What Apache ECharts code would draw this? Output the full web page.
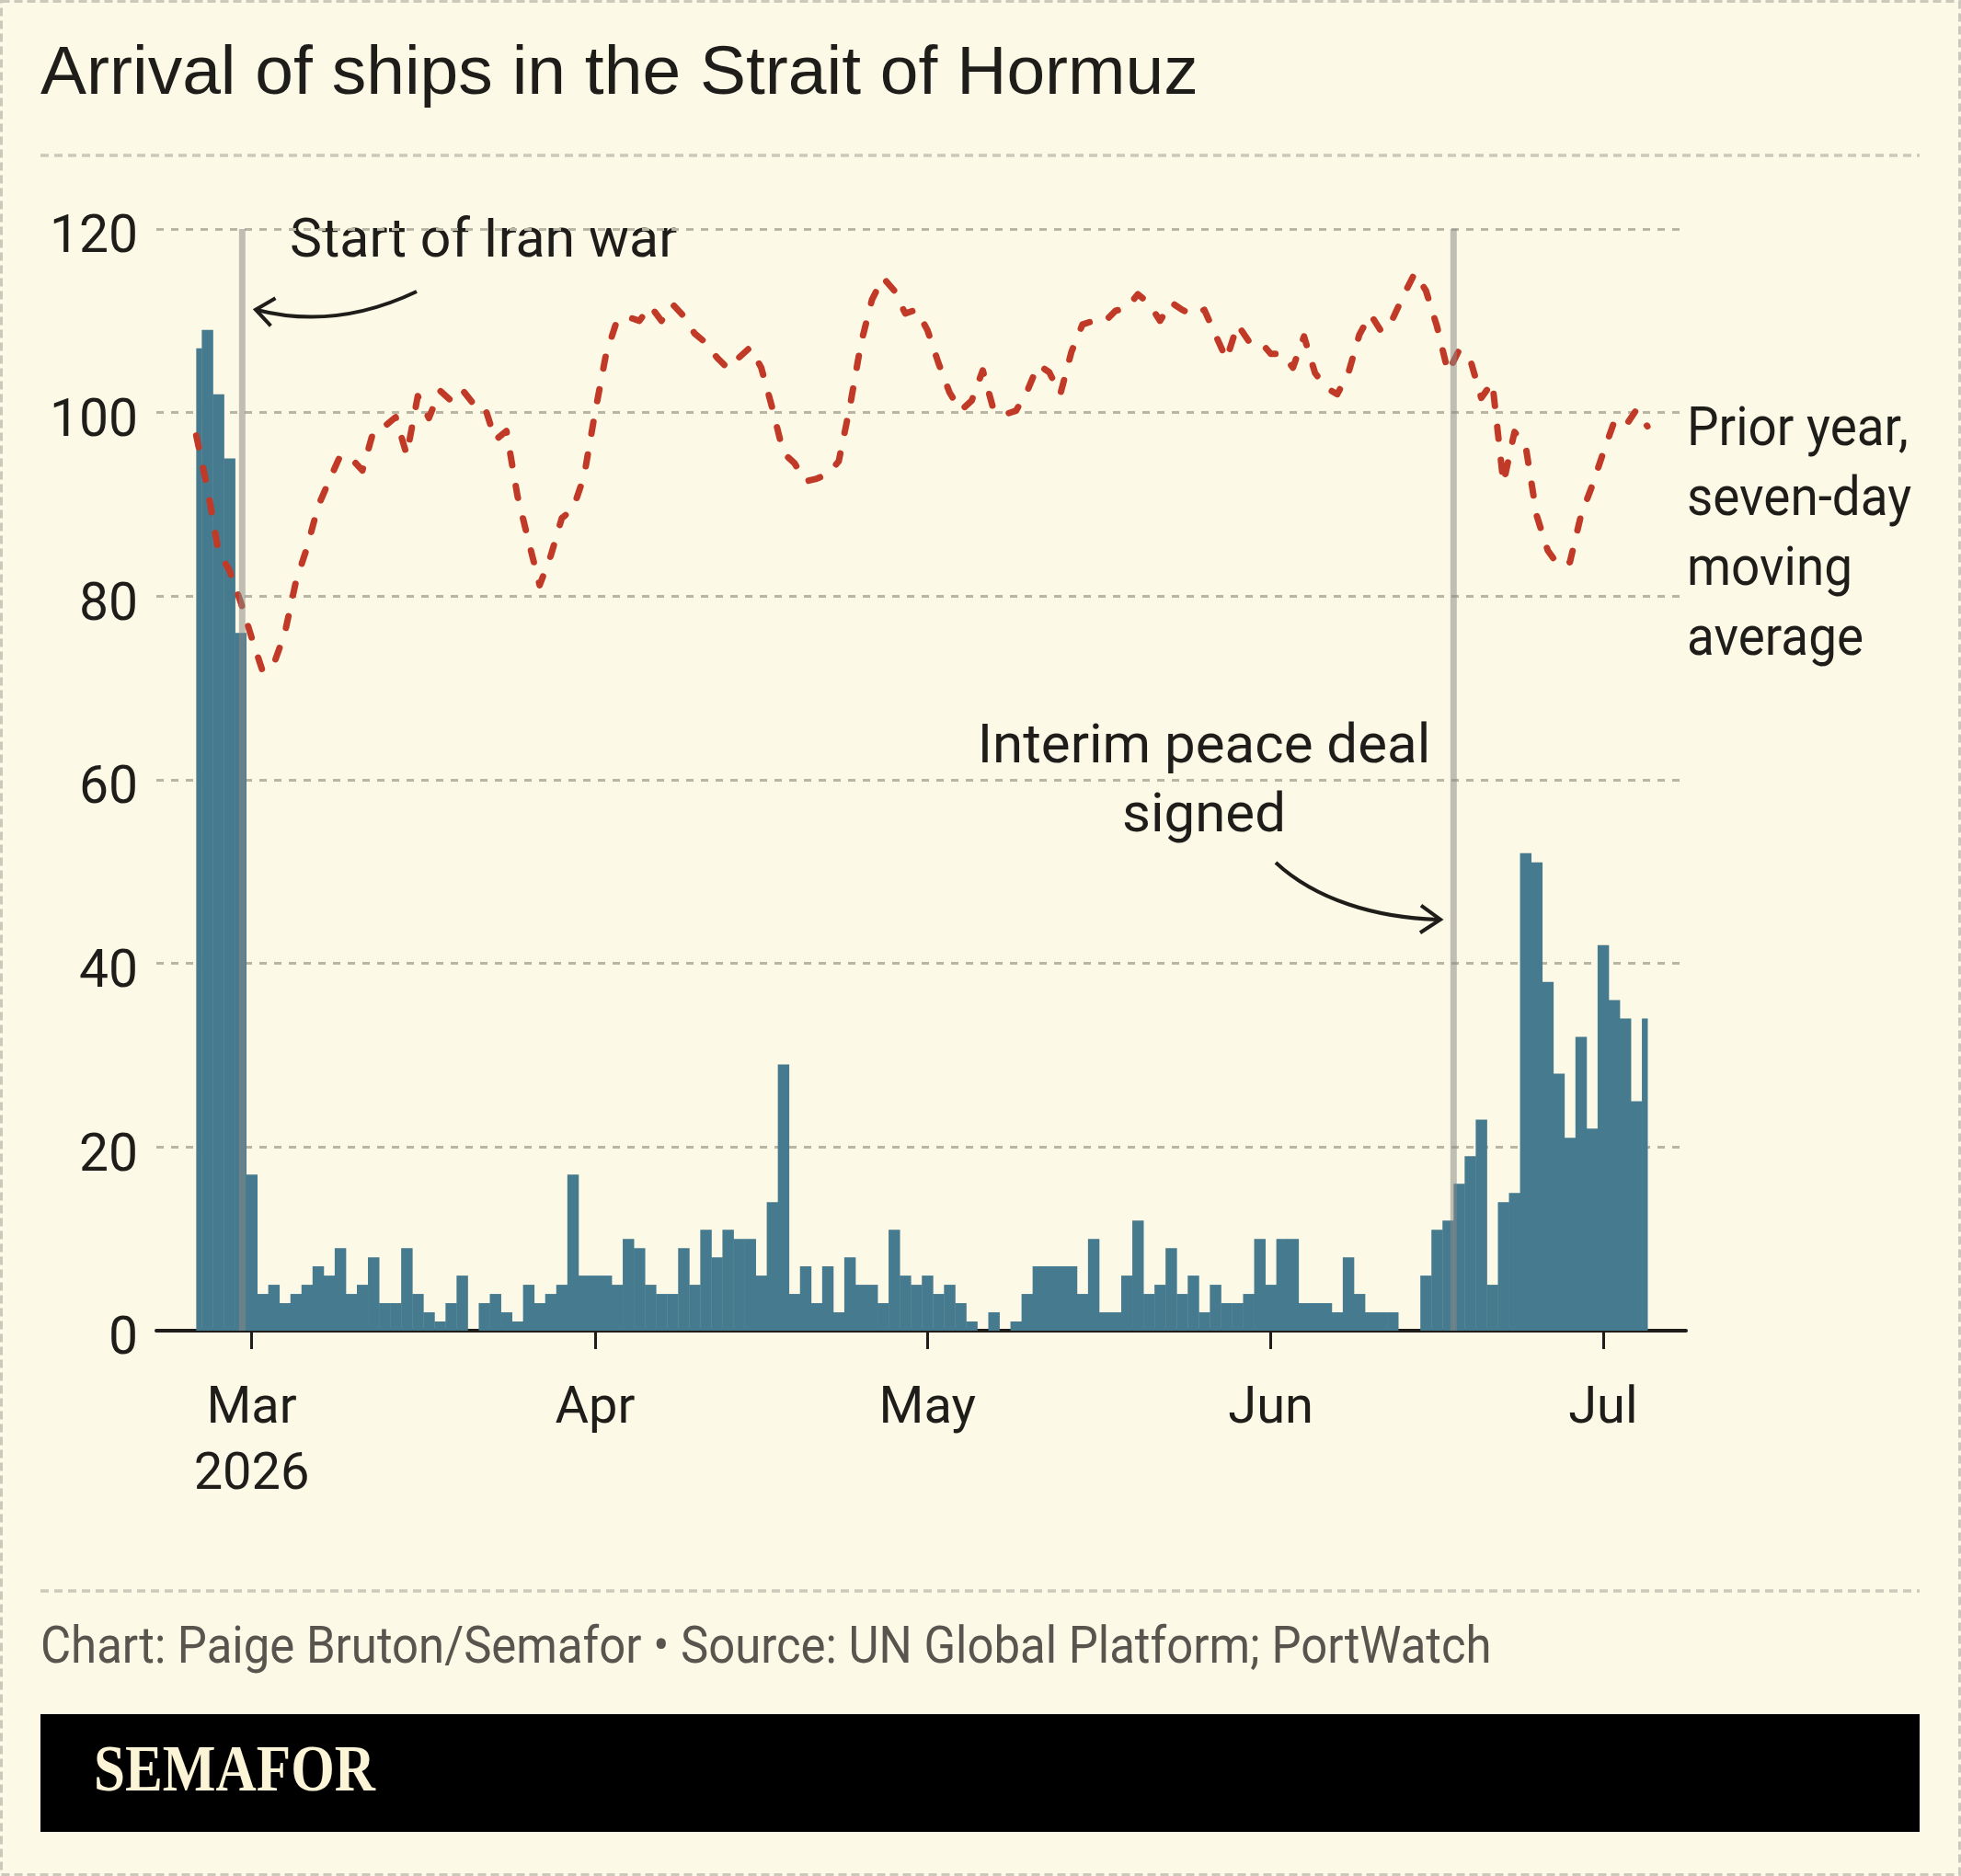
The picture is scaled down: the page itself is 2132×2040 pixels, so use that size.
<!DOCTYPE html>
<html>
<head>
<meta charset="utf-8">
<title>Arrival of ships in the Strait of Hormuz</title>
<script src="https://cdn.jsdelivr.net/npm/echarts@6/dist/echarts.min.js"></script>
<style>
  html, body { margin: 0; padding: 0; background: #fcf9e6; }
  #chart { width: 2132px; height: 2040px; }
</style>
</head>
<body>
<div id="chart"></div>
<script>
// ── Data ──────────────────────────────────────────────────────────────────────
// x values are day offsets from 1 March 2026; both series run Feb 24 → Jul 5.
const firstDay = -5

// Daily ship arrivals in the Strait of Hormuz, 2026
const arrivals = [
  // Feb 24–28
  107, 109, 102, 95, 76,
  // Mar
  17, 4, 5, 3, 4, 5, 7, 6, 9, 4, 5, 8, 3, 3, 9, 4, 2, 1, 3, 6, 0, 3, 4, 2, 1, 5, 3, 4, 5, 17, 6,
  // Apr
  6, 6, 5, 10, 9, 5, 4, 4, 9, 5, 11, 8, 11, 10, 10, 6, 14, 29, 4, 7, 3, 7, 2, 8, 5, 5, 3, 11, 6, 5,
  // May
  6, 4, 5, 3, 1, 0, 2, 0, 1, 4, 7, 7, 7, 7, 4, 10, 2, 2, 6, 12, 4, 5, 9, 4, 6, 2, 5, 3, 3, 4, 10,
  // Jun
  5, 10, 10, 3, 3, 3, 2, 8, 4, 2, 2, 2, 0, 0, 6, 11, 12, 16, 19, 23, 5, 14, 15, 52, 51, 38, 28, 21, 32, 22,
  // Jul 1–5
  42, 36, 34, 25, 34,
]

// Prior year, seven-day moving average
const priorYearAvg = [
  // Feb 24–28
  97.5, 91.8, 84.9, 82.8, 79.4,
  // Mar
  75.5, 71.8, 72.6, 76.0, 81.6, 85.3, 89.8, 92.6, 95.3, 95.0, 93.7, 98.0, 98.5, 99.5, 95.4, 101.8,
  99.4, 102.4, 101.3, 102.5, 101.0, 100.8, 97.0, 98.0, 90.9, 86.0, 81.2, 84.4, 88.5, 89.5, 93.0,
  // Apr
  100.0, 106.4, 110.1, 110.4, 110.0, 111.6, 110.0, 111.8, 110.5, 108.6, 107.6, 106.0, 104.8, 106.0, 107.1,
  104.9, 100.5, 95.6, 94.5, 92.5, 92.8, 93.3, 94.7, 100.6, 107.5, 112.3, 114.7, 113.3, 110.8, 111.2,
  // May
  109.0, 105.4, 102.2, 100.2, 101.3, 104.6, 100.2, 99.8, 100.2, 102.3, 105.2, 104.4, 102.0, 106.6, 109.6,
  110.0, 109.9, 111.1, 111.4, 112.9, 111.9, 110.0, 112.0, 111.2, 110.6, 111.2, 108.5, 105.8, 109.6, 107.8, 107.8,
  // Jun
  106.4, 106.4, 104.9, 108.3, 104.3, 102.7, 102.0, 104.3, 108.5, 110.7, 108.8, 110.2, 112.8, 115.2, 113.3,
  109.4, 104.4, 106.8, 105.8, 101.6, 103.3, 92.3, 97.9, 96.4, 88.8, 85.0, 83.3, 83.7, 88.8, 92.0,
  // Jul 1–5
  95.6, 99.0, 98.5, 100.3, 98.5,
]

// Month ticks (day offsets) and their labels
const monthTicks = [0, 31, 61, 92, 122]
const monthLabels = ['Mar\n2026', 'Apr', 'May', 'Jun', 'Jul']

// Event markers: start of Iran war, interim peace deal signed
const eventDays = [-0.85, 108.5]

const yTicks = [0, 20, 40, 60, 80, 100, 120]

// ── Styles ────────────────────────────────────────────────────────────────────

const BG = '#fcf9e6'
const INK = '#1f1d1a'
const BAR_COLOR = '#457a8f'
const LINE_COLOR = '#c13a27'
const EVENT_COLOR = 'rgba(138,137,135,0.53)'
const GRID_COLOR = '#b9b6a6'
const RULE_COLOR = '#cbc8bc'
const FOOT_COLOR = '#58554f'
const CREAM = '#fbf4d6'
const LABEL_FONT = 'Roboto, "Liberation Sans", sans-serif'
const TITLE_FONT = '"Liberation Sans", Arial, sans-serif'

const lastDay = firstDay + arrivals.length - 1

// ── Series renderers ──────────────────────────────────────────────────────────

// One column per day, clipped to the span of the data (first/last day centres)
function renderBar(params, api) {
  const day = api.value(0)
  const value = api.value(1)
  const base = api.coord([day, 0])
  const top = api.coord([day, value])
  const width = api.size([1, 0])[0]
  const left = api.coord([firstDay, 0])[0]
  const right = api.coord([lastDay, 0])[0]
  const x0 = Math.max(base[0] - width / 2, left)
  const x1 = Math.min(base[0] + width / 2, right)
  return {
    type: 'rect',
    shape: { x: x0, y: top[1], width: x1 - x0 + 0.4, height: base[1] - top[1] },
    style: { fill: BAR_COLOR },
  }
}

function renderEvent(params, api) {
  const top = api.coord([api.value(0), api.value(1)])
  const bottom = api.coord([api.value(0), 0])
  return {
    type: 'line',
    shape: { x1: top[0], y1: top[1], x2: bottom[0], y2: bottom[1] },
    style: { stroke: EVENT_COLOR, lineWidth: 7 },
  }
}

// ── Decorations (titles, notes, footer) ───────────────────────────────────────

function text(x, y, content, extra, scaleX = 1) {
  return {
    type: 'text',
    x,
    y,
    scaleX,
    silent: true,
    style: Object.assign({
      text: content,
      fontFamily: LABEL_FONT,
      fontSize: 59,
      fill: INK,
      align: 'left',
      verticalAlign: 'middle',
    }, extra),
  }
}

function rule(y) {
  return {
    type: 'line',
    silent: true,
    shape: { x1: 44, y1: y, x2: 2087, y2: y },
    style: { stroke: RULE_COLOR, lineWidth: 3.5, lineDash: [9, 6] },
  }
}

function arrowHead(points) {
  return {
    type: 'polyline',
    silent: true,
    shape: { points },
    style: { stroke: INK, lineWidth: 4, fill: null, lineJoin: 'miter' },
  }
}

const graphics = [
  // dashed frame round the whole card
  {
    type: 'rect',
    silent: true,
    shape: { x: 1.5, y: 1.5, width: 2129, height: 2037 },
    style: { fill: null, stroke: RULE_COLOR, lineWidth: 3, lineDash: [9, 5] },
  },
  text(44, 81, 'Arrival of ships in the Strait of Hormuz', { fontFamily: TITLE_FONT, fontSize: 75 }),
  rule(169),
  rule(1730),

  // "Start of Iran war" note
  text(315, 264, 'Start of Iran war'),
  {
    type: 'bezierCurve',
    silent: true,
    shape: { x1: 453, y1: 317, x2: 279, y2: 337, cpx1: 365, cpy1: 359 },
    style: { stroke: INK, lineWidth: 4, fill: null },
  },
  arrowHead([[299.5, 324.3], [278, 336.7], [294.4, 354.3]]),

  // "Interim peace deal signed" note
  text(1309, 776, 'Interim peace deal\nsigned', { align: 'center', verticalAlign: 'top', lineHeight: 75, fontSize: 60 }),
  {
    type: 'bezierCurve',
    silent: true,
    shape: { x1: 1387, y1: 938, x2: 1564, y2: 1000, cpx1: 1430, cpy1: 978, cpx2: 1495, cpy2: 998 },
    style: { stroke: INK, lineWidth: 4, fill: null },
  },
  arrowHead([[1545, 984.6], [1566, 1000], [1544, 1014.3]]),

  // line label
  text(1834, 431, 'Prior year,\nseven-day\nmoving\naverage', { verticalAlign: 'top', lineHeight: 76 }, 0.93),

  // footer
  text(44, 1794, 'Chart: Paige Bruton/Semafor \u2022 Source: UN Global Platform; PortWatch', {
    fontSize: 55,
    fill: FOOT_COLOR,
  }, 0.925),
  {
    type: 'rect',
    silent: true,
    shape: { x: 44, y: 1864, width: 2043, height: 128 },
    style: { fill: '#000' },
  },
  {
    type: 'text',
    silent: true,
    x: 102,
    y: 1928,
    scaleX: 0.85,
    style: {
      text: 'SEMAFOR',
      fontFamily: '"Liberation Serif", "DejaVu Serif", serif',
      fontWeight: 'bold',
      fontSize: 72,
      fill: CREAM,
      align: 'left',
      verticalAlign: 'middle',
    },
  },
]

// ── Chart ─────────────────────────────────────────────────────────────────────

const chart = echarts.init(document.getElementById('chart'), null, { renderer: 'canvas' })

chart.setOption({
  backgroundColor: BG,
  animation: false,
  textStyle: { fontFamily: LABEL_FONT },
  grid: { left: 170, top: 249, width: 1663, height: 1198, containLabel: false },
  xAxis: {
    type: 'value',
    min: -8.6,
    max: 129.48,
    axisLine: { show: true, onZero: false, lineStyle: { color: INK, width: 4 } },
    axisTick: { show: true, customValues: monthTicks, length: 20, lineStyle: { color: INK, width: 3 } },
    axisLabel: {
      customValues: monthTicks,
      formatter: value => monthLabels[monthTicks.indexOf(value)] ?? '',
      fontSize: 56,
      lineHeight: 72,
      color: INK,
      margin: 50,
    },
    splitLine: { show: false },
  },
  yAxis: {
    type: 'value',
    min: 0,
    max: 120,
    interval: 20,
    axisLine: { show: false },
    axisTick: { show: false },
    axisLabel: {
      customValues: yTicks,
      fontSize: 57,
      color: INK,
      margin: 20,
      // sit the numbers a little below their gridline, as in the original
      verticalAlign: 'top',
      lineHeight: 22,
    },
    splitLine: { show: true, lineStyle: { color: GRID_COLOR, width: 3, type: [8, 8] } },
  },
  series: [
    {
      type: 'custom',
      name: 'Arrivals',
      data: arrivals.map((v, i) => [firstDay + i, v]),
      encode: { x: 0, y: 1 },
      renderItem: renderBar,
      silent: true,
      z: 2,
    },
    {
      type: 'line',
      name: 'Prior year, seven-day moving average',
      data: priorYearAvg.map((v, i) => [firstDay + i, v]),
      symbol: 'none',
      showSymbol: false,
      silent: true,
      lineStyle: { color: LINE_COLOR, width: 7, type: [13, 23], cap: 'round', join: 'round' },
      z: 3,
    },
    {
      type: 'custom',
      name: 'Events',
      data: eventDays.map(d => [d, 120]),
      encode: { x: 0, y: 1 },
      renderItem: renderEvent,
      silent: true,
      z: 4,
    },
  ],
  graphic: graphics,
})

window.addEventListener('resize', () => chart.resize())
</script>
</body>
</html>
